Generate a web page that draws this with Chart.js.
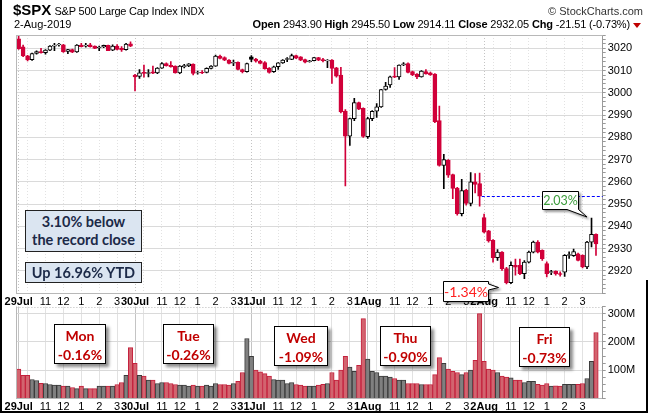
<!DOCTYPE html>
<html>
<head>
<meta charset="utf-8">
<script src="https://cdn.jsdelivr.net/npm/chart.js@4"></script>
<style>
  body { margin: 0; background: #fff; }
  #wrap { position: relative; width: 650px; height: 415px; overflow: hidden; background: #fff;
          font-family: "Liberation Sans", Arial, sans-serif; color: #000; }
  canvas { position: absolute; left: 0; top: 0; }
  .txt { position: absolute; white-space: nowrap; font-size: 11px; line-height: 13px; }
  .sym { font-size: 15px; font-weight: bold; }
  .note { position: absolute; box-sizing: border-box; text-align: center;
          font-family: Lato, "Open Sans", sans-serif; font-weight: bold; }
  .blue { background: #dbe5f1; border: 1px solid #222; color: #1c2a48; font-size: 14.5px; }
  .day { background: #fff; border: 1px solid #000; color: #c00000; font-size: 14px; line-height: 19px;
         padding-top: 1px; box-shadow: 3px 3px 3px rgba(0,0,0,0.45); }
  .frame { position: absolute; background: #000; }
</style>
</head>
<body>
<div id="wrap">
  <canvas id="priceChart" width="650" height="415"></canvas>
  <canvas id="volChart" width="650" height="415"></canvas>

  <div class="txt" style="left:13px; top:3px;"><span class="sym">$SPX</span> <span style="letter-spacing:-0.2px">S&amp;P 500 Large Cap Index</span> <span style="font-size:10px">INDX</span></div>
  <div class="txt" style="right:7px; top:5px; color:#333;">&copy; StockCharts.com</div>
  <div class="txt" style="left:14px; top:18px;">2-Aug-2019</div>
  <div class="txt" style="right:9px; top:18px; letter-spacing:-0.15px;"><b>Open</b> 2943.90 <b>High</b> 2945.50 <b>Low</b> 2914.11 <b>Close</b> 2932.05 <b>Chg</b> -21.51 (-0.73%)<span style="display:inline-block; margin-left:3px; width:0; height:0; border-left:4px solid transparent; border-right:4px solid transparent; border-top:5px solid #c00000;"></span></div>

  <div class="note blue" style="left:25px; top:210px; width:117px; height:42px; line-height:18px; padding-top:2px;">3.10% below<br>the record close</div>
  <div class="note blue" style="left:25px; top:262px; width:117px; height:21px; line-height:19px;">Up 16.96% YTD</div>

  <div class="note day" style="left:54px; top:324px; width:52px; height:40px;">Mon<br>-0.16%</div>
  <div class="note day" style="left:163px; top:324px; width:51px; height:40px;">Tue<br>-0.26%</div>
  <div class="note day" style="left:274px; top:326px; width:54px; height:40px;">Wed<br>-1.09%</div>
  <div class="note day" style="left:380px; top:326px; width:51px; height:40px;">Thu<br>-0.90%</div>
  <div class="note day" style="left:519px; top:327px; width:51px; height:40px;">Fri<br>-0.73%</div>

  <svg style="position:absolute; left:0; top:0;" width="650" height="415">
    <defs>
      <filter id="sh" x="-20%" y="-20%" width="150%" height="160%">
        <feDropShadow dx="2" dy="2" stdDeviation="1.2" flood-color="#000" flood-opacity="0.4"/>
      </filter>
    </defs>
    <path d="M542.5,191.5 H578.5 V209.5 L587,217 L567,209.5 H542.5 Z" fill="#fff" stroke="#000" stroke-width="1" filter="url(#sh)"/>
    <path d="M443.5,281.5 H488.5 V284 L498.5,287.5 L488.5,290 V301.5 H443.5 Z" fill="#fff" stroke="#000" stroke-width="1" filter="url(#sh)"/>
  </svg>
  <div class="txt" style="left:542px; top:193px; width:37px; text-align:center; font-family:Lato,sans-serif; font-size:12.5px; line-height:15px; color:#3c9c3c;">2.03%</div>
  <div class="txt" style="left:443px; top:283px; width:46px; text-align:center; font-family:Lato,sans-serif; font-size:14px; line-height:17px; color:#ff2020;">-1.34%</div>

  <div class="frame" style="left:0; top:0; width:2px; height:413px;"></div>
  <div class="frame" style="left:0; top:411px; width:648px; height:2px;"></div>
  <div class="frame" style="left:646px; top:280px; width:2px; height:133px;"></div>
</div>

<script>
// 15-minute candles, 26 per session, 29 Jul - 2 Aug 2019
const days = ['29Jul', '30Jul', '31Jul', '1Aug', '2Aug'];
const hourSlots = [2, 6, 10, 14, 18, 22];          // 10:00 ... 3:00 inside a session
const hourLabels = ['', '11', '12', '1', '2', '3'];
const barsPerDay = 26;

const prevClose = 3025.86;   // 26 Jul close
const refClose = 2953.56;    // 1 Aug close, dashed line
const refStart = 103;

const opens = [
  3024.3, 3020.7, 3016.6, 3014.9, 3017.7, 3018.6, 3018.1, 3019.2, 3021.0, 3021.5, 3021.6, 3018.6, 3019.5, 3018.4, 3021.5, 3021.0, 3021.6, 3021.0, 3020.2, 3020.6, 3021.3, 3019.2, 3021.0, 3020.0, 3019.4, 3022.0,
  3008.0, 3007.4, 3009.2, 3008.7, 3009.4, 3009.0, 3011.1, 3013.2, 3012.4, 3012.0, 3009.0, 3011.7, 3012.1, 3012.9, 3008.9, 3009.2, 3009.2, 3011.0, 3012.0, 3016.5, 3015.9, 3014.7, 3013.3, 3013.7, 3010.5, 3009.5,
  3016.2, 3015.2, 3014.3, 3013.6, 3011.1, 3009.5, 3011.8, 3013.5, 3015.0, 3015.0, 3016.8, 3016.2, 3015.0, 3014.0, 3014.5, 3015.8, 3014.9, 3014.3, 3014.7, 3011.2, 3008.0, 2991.8, 2980.5, 2988.4, 2995.6, 2993.0,
  2980.3, 2988.4, 2991.7, 2993.7, 3001.5, 3003.5, 3007.5, 3007.2, 3012.5, 3013.2, 3009.5, 3008.4, 3007.2, 3009.6, 3009.0, 3008.4, 2987.5, 2967.4, 2969.7, 2963.2, 2957.2, 2945.7, 2956.3, 2950.3, 2960.0, 2959.2,
  2943.9, 2937.9, 2933.7, 2925.9, 2928.4, 2921.0, 2914.6, 2922.4, 2922.4, 2918.7, 2923.9, 2928.4, 2932.9, 2929.2, 2923.2, 2919.2, 2919.8, 2918.7, 2919.4, 2926.9, 2926.8, 2927.6, 2926.9, 2921.7, 2932.9, 2936.4
];
const highs = [
  3025.5, 3021.5, 3016.9, 3017.9, 3018.9, 3020.0, 3019.5, 3021.2, 3022.2, 3022.3, 3021.8, 3019.6, 3019.7, 3021.7, 3022.3, 3022.3, 3022.2, 3021.1, 3021.0, 3021.5, 3021.5, 3021.6, 3021.7, 3020.8, 3022.2, 3022.9,
  3008.3, 3010.5, 3012.5, 3010.5, 3012.0, 3011.3, 3013.6, 3013.5, 3014.1, 3012.1, 3012.2, 3012.8, 3013.2, 3013.0, 3009.8, 3010.0, 3011.2, 3012.2, 3017.0, 3017.0, 3016.2, 3015.0, 3014.7, 3013.9, 3010.7, 3013.4,
  3016.7, 3015.5, 3014.6, 3014.0, 3011.3, 3012.0, 3013.6, 3014.9, 3015.8, 3017.4, 3017.0, 3016.3, 3015.2, 3014.6, 3016.0, 3016.0, 3015.5, 3015.0, 3015.0, 3011.5, 3011.5, 2992.5, 2988.6, 2997.5, 2995.8, 2993.3,
  2989.0, 2992.0, 2995.2, 3001.6, 3004.7, 3007.5, 3011.3, 3012.6, 3013.6, 3013.5, 3009.8, 3008.6, 3010.0, 3010.5, 3009.3, 3008.6, 2994.0, 2972.4, 2970.0, 2963.5, 2957.5, 2961.1, 2956.6, 2964.1, 2963.7, 2963.9,
  2945.5, 2938.2, 2934.0, 2929.5, 2928.6, 2921.5, 2924.0, 2925.2, 2925.2, 2924.6, 2928.8, 2933.4, 2933.6, 2929.4, 2924.0, 2920.2, 2920.0, 2919.5, 2927.3, 2928.5, 2929.8, 2928.0, 2927.2, 2933.2, 2943.7, 2936.6
];
const lows = [
  3019.5, 3016.3, 3014.3, 3014.6, 3017.4, 3017.8, 3017.4, 3019.0, 3018.9, 3021.0, 3018.2, 3017.6, 3018.0, 3018.2, 3020.6, 3020.5, 3020.5, 3019.8, 3018.9, 3020.3, 3018.9, 3018.9, 3019.3, 3018.6, 3019.2, 3020.8,
  3000.9, 3006.5, 3007.0, 3007.2, 3008.6, 3008.6, 3011.0, 3012.0, 3011.5, 3008.8, 3008.6, 3011.2, 3011.8, 3008.1, 3008.4, 3008.6, 3009.0, 3010.8, 3011.9, 3015.3, 3014.5, 3013.0, 3012.2, 3010.3, 3009.0, 3009.3,
  3014.0, 3013.8, 3013.0, 3010.6, 3008.8, 3009.2, 3010.5, 3013.2, 3014.0, 3014.9, 3015.4, 3014.5, 3013.5, 3013.8, 3014.3, 3014.5, 3013.9, 3011.3, 3004.2, 3007.0, 2991.0, 2958.1, 2976.4, 2987.5, 2992.4, 2980.0,
  2979.5, 2987.5, 2988.9, 2993.4, 3001.2, 3002.4, 3006.8, 3006.0, 3012.2, 3009.0, 3007.7, 3006.4, 3007.0, 3008.4, 3007.8, 2986.6, 2967.0, 2956.9, 2962.0, 2952.4, 2945.0, 2944.6, 2949.5, 2949.1, 2955.0, 2949.0,
  2937.0, 2932.9, 2923.9, 2924.7, 2920.2, 2914.11, 2914.2, 2918.0, 2918.2, 2916.4, 2923.5, 2928.0, 2928.0, 2924.7, 2917.2, 2918.2, 2918.0, 2917.6, 2917.5, 2925.5, 2926.5, 2924.4, 2921.3, 2920.9, 2930.7, 2926.9
];
const closes = [
  3019.8, 3016.6, 3014.8, 3017.7, 3018.6, 3018.1, 3019.2, 3021.0, 3021.5, 3021.9, 3018.5, 3019.4, 3018.3, 3021.5, 3020.8, 3021.5, 3020.7, 3020.0, 3020.6, 3021.3, 3019.0, 3021.0, 3019.5, 3019.3, 3021.9, 3021.0,
  3007.2, 3009.0, 3008.7, 3009.1, 3008.8, 3011.1, 3013.2, 3012.2, 3011.7, 3009.0, 3012.0, 3012.3, 3013.0, 3008.7, 3009.1, 3008.9, 3011.0, 3012.0, 3016.5, 3015.5, 3014.7, 3013.2, 3013.7, 3010.5, 3009.5, 3013.2,
  3015.0, 3014.2, 3013.2, 3010.8, 3009.2, 3011.7, 3013.5, 3014.7, 3015.4, 3016.8, 3015.6, 3014.7, 3013.8, 3014.4, 3015.8, 3014.7, 3014.5, 3014.7, 3011.0, 3007.5, 2991.4, 2980.5, 2988.4, 2995.6, 2992.7, 2980.4,
  2988.4, 2991.7, 2993.7, 3001.5, 3003.0, 3007.2, 3007.0, 3012.5, 3013.0, 3009.2, 3008.0, 3007.2, 3009.8, 3008.5, 3008.0, 2987.0, 2967.4, 2970.0, 2963.0, 2957.0, 2945.7, 2956.0, 2950.3, 2960.0, 2958.8, 2953.56,
  2937.4, 2933.4, 2925.9, 2928.4, 2920.9, 2914.6, 2922.4, 2921.6, 2918.7, 2923.9, 2928.4, 2932.9, 2928.4, 2925.4, 2918.7, 2919.6, 2918.6, 2918.3, 2926.9, 2927.3, 2928.6, 2924.7, 2921.7, 2932.9, 2936.4, 2932.05
];
// volume in millions of shares
const volumes = [
  103.5, 82, 82, 67, 63.5, 54, 53, 49.5, 47, 47, 43.5, 43.5, 39, 35, 43.5, 35, 35, 35, 43.5, 43.5, 43.5, 43.5, 49.5, 56.5, 82, 180,
  124, 82, 79, 65, 65, 53, 56.5, 56.5, 53, 49.5, 47, 47, 43.5, 47, 43.5, 43.5, 47, 43.5, 53, 49.5, 49.5, 47, 53, 61, 92, 212,
  149, 100, 94, 88, 79, 67, 65, 65, 53, 56.5, 49.5, 47, 43.5, 43.5, 43.5, 47, 50, 53, 92, 65, 100, 149, 111, 96, 117, 282,
  139, 96, 92, 79, 79, 76, 70.5, 65, 65, 53, 53, 53, 49.5, 49.5, 49.5, 84.5, 144.5, 124, 103.5, 96, 92, 84.5, 92, 100, 135, 300,
  131, 103.5, 100, 92, 79, 76, 73, 65, 65, 56.5, 61, 61, 50, 47, 53, 43.5, 45, 43.5, 50, 50, 50, 50, 53, 70.5, 131, 233
];

const RED = '#d1003a';
const FONT = '"Liberation Sans", Arial, sans-serif';

// x labels: day name at session open, hour numbers on the hour, one empty slot at the right
const labels = [];
days.forEach(d => {
  for (let j = 0; j < barsPerDay; j++) {
    const h = hourSlots.indexOf(j);
    labels.push(j === 0 ? d : (h >= 0 ? hourLabels[h] : ''));
  }
});
labels.push('');

const isDown = closes.map((c, i) => c < (i === 0 ? prevClose : closes[i - 1]));
const lineColor = isDown.map(d => d ? RED : '#000');
const bodyFill = closes.map((c, i) => c > opens[i] ? '#fff' : lineColor[i]);

function gridColor(ctx) {
  const i = ctx.index;
  if (i >= opens.length) return 'rgba(0,0,0,0)';
  const j = i % barsPerDay;
  if (j === 0) return '#c4c4c4';
  return hourSlots.includes(j) ? '#e2e2e2' : 'rgba(0,0,0,0)';
}

function xScale() {
  return {
    type: 'category',
    offset: true,
    grid: { offset: false, color: gridColor, drawTicks: false, lineWidth: 1 },
    border: { display: true, color: '#b8b8b8', dash: [1, 2] },
    ticks: {
      autoSkip: false, maxRotation: 0, padding: 2, color: '#000',
      font: ctx => ({ family: FONT, size: 11, weight: (ctx.index % barsPerDay === 0 && ctx.index < opens.length) ? 'bold' : 'normal' })
    },
    afterFit: s => { s.height = 14; s.paddingLeft = 0; s.paddingRight = 0; }
  };
}

// light frame on the left and top of each panel
const panelFrame = {
  id: 'panelFrame',
  afterDraw(chart, args, opts) {
    const { ctx, chartArea: a } = chart;
    ctx.save();
    ctx.lineWidth = 1;
    ctx.strokeStyle = '#b8b8b8';
    ctx.beginPath();
    ctx.moveTo(Math.round(a.left) + 0.5, a.top);
    ctx.lineTo(Math.round(a.left) + 0.5, a.bottom);
    ctx.stroke();
    ctx.setLineDash(opts.topDash || []);
    ctx.beginPath();
    ctx.moveTo(a.left, Math.round(a.top) + 0.5);
    ctx.lineTo(a.right, Math.round(a.top) + 0.5);
    ctx.stroke();
    ctx.restore();
  }
};

const refLine = {
  id: 'refLine',
  afterDatasetsDraw(chart) {
    const { ctx, chartArea: a, scales: { x, y } } = chart;
    const yy = Math.round(y.getPixelForValue(refClose)) + 0.5;
    ctx.save();
    ctx.strokeStyle = '#0000ff';
    ctx.lineWidth = 1;
    ctx.setLineDash([3, 2]);
    ctx.beginPath();
    ctx.moveTo(x.getPixelForValue(refStart) + 2.2, yy);
    ctx.lineTo(a.right, yy);
    ctx.stroke();
    ctx.restore();
  }
};

new Chart(document.getElementById('priceChart'), {
  type: 'bar',
  data: {
    labels: labels,
    datasets: [
      {
        label: 'body',
        data: opens.map((o, i) => [o, closes[i]]),
        backgroundColor: bodyFill,
        borderColor: lineColor,
        borderWidth: 1,
        borderSkipped: false,
        barThickness: 4,
        grouped: false,
        order: 0
      },
      {
        label: 'wick',
        data: lows.map((l, i) => [l, highs[i]]),
        backgroundColor: lineColor,
        borderWidth: 0,
        barThickness: 1,
        grouped: false,
        order: 1
      }
    ]
  },
  options: {
    responsive: false,
    animation: false,
    layout: { padding: { left: 16.4, right: 2.3, top: 35, bottom: 108 } },
    plugins: { legend: { display: false }, tooltip: { enabled: false }, panelFrame: {} },
    scales: {
      x: xScale(),
      y: {
        position: 'right',
        min: 2910, max: 3026,
        grid: {
          color: ctx => (ctx.tick && ctx.tick.value % 10 === 0 && ctx.tick.value > 2910) ? '#dadada' : 'rgba(0,0,0,0)',
          tickColor: '#999', tickLength: 3, drawTicks: true
        },
        border: { color: '#9a9a9a' },
        ticks: {
          stepSize: 2, autoSkip: false, padding: 2, color: '#000',
          font: { family: FONT, size: 11 },
          callback: v => (v % 10 === 0 && v > 2910) ? v : ''
        },
        afterFit: s => { s.width = 45; s.paddingTop = 0; s.paddingBottom = 0; }
      }
    }
  },
  plugins: [panelFrame, refLine]
});

new Chart(document.getElementById('volChart'), {
  type: 'bar',
  data: {
    labels: labels,
    datasets: [{
      label: 'volume',
      data: volumes,
      backgroundColor: isDown.map(d => d ? '#d2646f' : '#808080'),
      borderColor: isDown.map(d => d ? '#c4203c' : '#3a3a3a'),
      borderWidth: 1,
      barPercentage: 1,
      categoryPercentage: 1
    }]
  },
  options: {
    responsive: false,
    animation: false,
    layout: { padding: { left: 16.4, right: 2.3, top: 306.5, bottom: 2.5 } },
    plugins: { legend: { display: false }, tooltip: { enabled: false }, panelFrame: { topDash: [1, 2] } },
    scales: {
      x: Object.assign(xScale(), { border: { display: true, color: '#b8b8b8' } }),
      y: {
        position: 'right',
        min: 0, max: 325,
        grid: {
          color: ctx => (ctx.tick && ctx.tick.value % 100 === 0 && ctx.tick.value > 0) ? '#dadada' : 'rgba(0,0,0,0)',
          tickColor: '#999', tickLength: 3
        },
        border: { color: '#9a9a9a' },
        ticks: {
          stepSize: 25, autoSkip: false, padding: 2, color: '#000',
          font: { family: FONT, size: 11 },
          callback: v => (v % 100 === 0 && v > 0) ? v + 'M' : ''
        },
        afterFit: s => { s.width = 45; s.paddingTop = 0; s.paddingBottom = 0; }
      }
    }
  },
  plugins: [panelFrame]
});
</script>
</body>
</html>
